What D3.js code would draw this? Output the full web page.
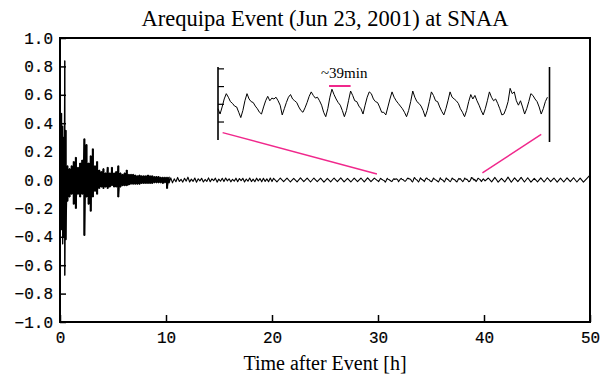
<!DOCTYPE html>
<meta charset="utf-8">
<style>
body { margin: 0; background: #fff; }
svg { display: block; }
.axis text { font: 16px "Liberation Mono", "DejaVu Sans Mono", monospace; fill: #000; stroke: #000; stroke-width: 0.2px; }
.axis line { stroke: #000; stroke-width: 1.5px; }
.serif { font-family: "Liberation Serif", "Times New Roman", serif; fill: #000; }
</style>
<body>
<svg id="chart" width="601" height="375"></svg>
<script src="https://cdn.jsdelivr.net/npm/d3@7"></script>
<script>

// 0 - 10.3 h : the record is too dense to follow, so keep max / min of each time bin
var burstTime = [0.05, 0.15, 0.25, 0.35, 0.45, 0.55,
  0.7, 0.9, 1.1, 1.3, 1.5, 1.7, 1.9, 2.1, 2.3, 2.5, 2.7, 2.9, 3.1, 3.3, 3.5, 3.7, 3.9,
  4.1, 4.3, 4.5, 4.7, 4.9, 5.1, 5.3, 5.5, 5.7, 5.9, 6.1, 6.3, 6.5, 6.7, 6.9, 7.1, 7.3,
  7.5, 7.7, 7.9, 8.1, 8.3, 8.5, 8.7, 8.9, 9.1, 9.3, 9.5, 9.7, 9.9, 10.1, 10.3];
var burstHigh = [0.10, 0.47, 0.38, 0.30, 0.84, 0.35,
  0.10, 0.08, 0.10, 0.13, 0.16, 0.09, 0.12, 0.14, 0.29, 0.25, 0.12, 0.17, 0.22, 0.10, 0.13, 0.07, 0.06,
  0.08, 0.05, 0.09, 0.05, 0.09, 0.05, 0.06, 0.10, 0.05, 0.04, 0.05, 0.07, 0.04, 0.04, 0.04, 0.035, 0.03,
  0.035, 0.03, 0.03, 0.03, 0.035, 0.03, 0.03, 0.025, 0.025, 0.025, 0.02, 0.02, 0.02, 0.02, 0.02];
var burstLow = [-0.10, -0.35, -0.45, -0.40, -0.67, -0.42,
  -0.15, -0.12, -0.10, -0.17, -0.20, -0.10, -0.12, -0.10, -0.39, -0.12, -0.17, -0.22, -0.12, -0.08, -0.10, -0.06, -0.05,
  -0.06, -0.05, -0.06, -0.05, -0.04, -0.05, -0.05, -0.12, -0.05, -0.04, -0.04, -0.04, -0.035, -0.03, -0.03, -0.03, -0.03,
  -0.03, -0.025, -0.025, -0.025, -0.025, -0.025, -0.025, -0.02, -0.02, -0.02, -0.02, -0.025, -0.02, -0.06, -0.02];

// 10.45 - 20 h : noisy stretch, units of 0.001
var tailA = [15, -20, 8, -12, 18, -10, 5, -15, 12, -8,
  20, -14, 6, -10, 14, -16, 9, -6, 12, -14,
  4, -10, 15, -12, 8, -5, 13, -15, 6, -9,
  12, -11, 14, -6, 9, -13, 5, -8, 13, -12,
  10, -4, 12, -14, 7, -9, 14, -11, 6, -12,
  13, -7, 10, -13, 12, -10, 8, -12, 14, -11];

// 20.1 - 30 h : successive peaks and troughs, units of 0.001
var tailC = [12, -13, 14, -12, 13, -14, 12, -13, 15, -12,
  13, -14, 14, -12, 13, -15, 12, -13, 14, -12,
  15, -13, 12, -14, 13, -12, 14, -13, 15, -12,
  13, -6];

// 30 - 40 h : trace, units of 0.001
var insetTrace = [-5, -11, -3, 6, 12, 8, 3, 1, -2, -3,
  -9, -15, -7, 4, 12, 6, 3, 2, -2, -5,
  -9, -11, -3, 4, 9, 4, 7, 6, 8, 4,
  -1, -12, -5, 2, 8, 11, 6, 4, 2, -3,
  -7, -9, -4, 2, 9, 14, 10, 7, 8, 4,
  -1, -9, -14, -5, 8, 17, 11, 6, 2, -1,
  -7, -14, -7, 4, 15, 10, 4, 3, -2, -5,
  -11, -1, 8, 14, 12, 6, 3, 2, -3, -9,
  -9, -12, -3, 6, 14, 8, 4, 1, -2, -5,
  -9, -14, -7, 3, 15, 8, 3, 1, -2, -7,
  -14, -7, 3, 14, 10, 4, 3, -3, -8, -12,
  -5, 4, 14, 8, 6, 4, 1, -5, -9, -14,
  -7, 3, 11, 6, 10, 4, -1, -7, -12, -5,
  4, 14, 8, 4, 6, 1, -5, -12, -11, -5,
  3, 18, 12, 14, 4, -1, 4, -3, -11, -5,
  3, 12, 10, 6, 3, -3, -11, -5, 3, 8];

// 40.1 - 50 h : peaks and troughs, units of 0.001
var tailB = [-6, 14, -13, 18, -15, 12, -14, 20, -16, 15,
  -12, 18, -14, 16, -15, 12, -13, 15, -14, 16,
  -12, 14, -15, 13, -14, 15, -12, 16, -14, 13,
  -15, 10, 35];

var xTicks = [0, 10, 20, 30, 40, 50];
var yTicks = [-1, -0.8, -0.6, -0.4, -0.2, 0, 0.2, 0.4, 0.6, 0.8, 1];
var insetTicks = [-0.02, 0, 0.02, 0.04];
var insetWindow = [30, 40];
var periodMinutes = 39;
var periodStart = 33.35;

var svg = d3.select("#chart");
var pink = "#f0288c";

var x = d3.scaleLinear().domain([0, 50]).range([60, 590]);
var y = d3.scaleLinear().domain([-1, 1]).range([322, 38]);

// put the pieces of the record together
var burst = burstTime.map(function(t, i) { return [t, burstLow[i], burstHigh[i]]; });
var trace = [[0, 0]];
burst.forEach(function(b) {
  trace.push([b[0], b[2]]);
  trace.push([b[0], b[1]]);
});
function spread(vals, t0, t1, list) {
  var dt = (t1 - t0) / (vals.length - 1);
  vals.forEach(function(v, i) { list.push([t0 + i * dt, v / 1000]); });
}
spread(tailA, 10.45, 20.0, trace);
spread(tailC, 20.15, 29.97, trace);
var insetPts = [];
insetTrace.forEach(function(v, i) {
  insetPts.push([insetWindow[0] + i * (insetWindow[1] - insetWindow[0]) / insetTrace.length, v / 1000]);
});
insetPts.forEach(function(p) { trace.push(p); });
spread(tailB, 40.1, 50, trace);

// dense part: fill each bin between its min and max
svg.append("path")
    .attr("d", d3.area()
        .curve(d3.curveStep)
        .x(function(d) { return x(d[0]); })
        .y0(function(d) { return y(d[1]); })
        .y1(function(d) { return y(d[2]); })(burst))
    .attr("fill", "#000");

var line = d3.line().x(function(d) { return x(d[0]); }).y(function(d) { return y(d[1]); });

svg.append("path")
    .attr("d", line(trace))
    .attr("fill", "none")
    .attr("stroke", "#000")
    .attr("stroke-width", 1.1)
    .attr("stroke-linejoin", "round");

// axes, ticks point inward
svg.append("g")
    .attr("class", "axis")
    .attr("transform", "translate(60,0)")
    .call(d3.axisLeft(y).tickValues(yTicks).tickSize(-6).tickPadding(7).tickFormat(d3.format(".1f")))
    .call(function(g) { g.select(".domain").remove(); });

svg.append("g")
    .attr("class", "axis")
    .attr("transform", "translate(0,322)")
    .call(d3.axisBottom(x).tickValues(xTicks).tickSize(-7).tickPadding(10))
    .call(function(g) { g.select(".domain").remove(); });

svg.append("rect")
    .attr("x", 60).attr("y", 38)
    .attr("width", 530).attr("height", 284)
    .attr("fill", "none")
    .attr("stroke", "#000")
    .attr("stroke-width", 2);

// inset: enlarged 30-40 h
var ix = d3.scaleLinear().domain(insetWindow).range([218, 549.5]);
var iy = d3.scaleLinear().domain([-0.0403, 0.0421]).range([140, 67]);
var inset = svg.append("g");

inset.append("line")
    .attr("x1", 218).attr("x2", 218).attr("y1", iy.range()[0]).attr("y2", iy.range()[1])
    .attr("stroke", "#000").attr("stroke-width", 1.6);
inset.append("line")
    .attr("x1", 549.5).attr("x2", 549.5).attr("y1", 142).attr("y2", 67)
    .attr("stroke", "#000").attr("stroke-width", 1.6);
inset.selectAll(".itick")
    .data(insetTicks)
  .enter().append("line")
    .attr("x1", 218).attr("x2", 224)
    .attr("y1", function(d) { return iy(d); })
    .attr("y2", function(d) { return iy(d); })
    .attr("stroke", "#000").attr("stroke-width", 1.2);

inset.append("path")
    .attr("d", d3.line().x(function(d) { return ix(d[0]); }).y(function(d) { return iy(d[1]); })(insetPts))
    .attr("fill", "none")
    .attr("stroke", "#000")
    .attr("stroke-width", 1)
    .attr("stroke-linejoin", "round");

// period marker
inset.append("line")
    .attr("x1", ix(periodStart)).attr("x2", ix(periodStart + periodMinutes / 60))
    .attr("y1", 86).attr("y2", 86)
    .attr("stroke", pink).attr("stroke-width", 2);
inset.append("text")
    .attr("class", "serif")
    .attr("x", 321).attr("y", 78)
    .attr("font-size", 15)
    .text("~" + periodMinutes + "min");

// lines tying the inset to the main trace
svg.append("line")
    .attr("x1", ix(30.14)).attr("y1", iy(-0.032))
    .attr("x2", x(29.9)).attr("y2", y(0.042))
    .attr("stroke", pink).attr("stroke-width", 1.5);
svg.append("line")
    .attr("x1", x(39.85)).attr("y1", y(0.05))
    .attr("x2", ix(39.75)).attr("y2", iy(-0.034))
    .attr("stroke", pink).attr("stroke-width", 1.5);

svg.append("text")
    .attr("class", "serif")
    .attr("x", 325).attr("y", 26)
    .attr("text-anchor", "middle")
    .attr("font-size", 22.5)
    .text("Arequipa Event (Jun 23, 2001) at SNAA");

svg.append("text")
    .attr("class", "serif")
    .attr("x", 325).attr("y", 370)
    .attr("text-anchor", "middle")
    .attr("font-size", 20)
    .text("Time after Event [h]");

</script>
</body>
